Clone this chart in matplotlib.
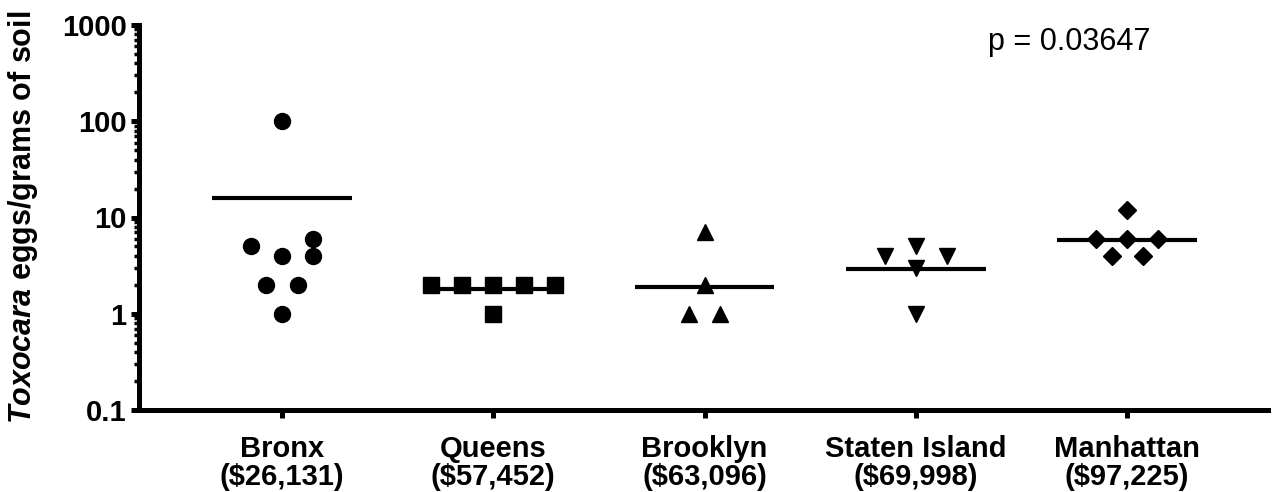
import numpy as np
import matplotlib
matplotlib.use('Agg')
import matplotlib.pyplot as plt
from matplotlib.ticker import LogLocator, FixedLocator, NullFormatter

# Datos
boroughs = ['Bronx', 'Queens', 'Brooklyn', 'Staten Island', 'Manhattan']
incomes = ['($26,131)', '($57,452)', '($63,096)', '($69,998)', '($97,225)']

bronx = [100, 5, 6, 4, 4, 2, 2, 1]
queens = [2, 2, 2, 2, 2, 1]
brooklyn = [7, 2, 1, 1]
staten = [4, 5, 4, 3, 1]
manhattan = [12, 6, 6, 6, 4, 4]

center_lines = [16, 1.8, 1.9, 2.95, 5.8]
p_text = 'p = 0.03647'

# desplazamiento horizontal de cada punto (en pasos de columna)
offsets = [
    [0, -1, 1, 0, 1, -0.5, 0.5, 0],
    [-2, -1, 0, 1, 2, 0],
    [0, 0, -0.5, 0.5],
    [-1, 0, 1, 0, 0],
    [0, -1, 0, 1, -0.5, 0.5],
]
markers = ['o', 's', '^', 'v', 'D']
msizes = [11.5, 11, 12, 12, 9.5]
step = 0.147

plt.rcParams['font.family'] = ['Liberation Sans', 'DejaVu Sans']
plt.rcParams['mathtext.fontset'] = 'custom'
plt.rcParams['mathtext.it'] = 'Liberation Sans:italic:bold'
plt.rcParams['mathtext.rm'] = 'Liberation Sans:bold'

fig = plt.figure(figsize=(12.73, 4.92), dpi=100)
ax = fig.add_axes([139/1273, 82/492, (1268-139)/1273, (410-25)/492])

groups = [bronx, queens, brooklyn, staten, manhattan]
for i, vals in enumerate(groups):
    xs = i + np.array(offsets[i]) * step
    ax.plot(xs, vals, linestyle='none', marker=markers[i], color='black',
            markersize=msizes[i], zorder=3)
    ax.plot([i - 0.33, i + 0.33], [center_lines[i]] * 2, color='black',
            lw=3, solid_capstyle='butt', zorder=2)

ax.set_yscale('log')
ax.set_ylim(0.1, 1000)
ax.set_xlim(-0.677, 4.667)
ax.yaxis.set_major_locator(FixedLocator([0.1, 1, 10, 100, 1000]))
ax.yaxis.set_minor_locator(LogLocator(base=10, subs=np.arange(2, 10)))
ax.yaxis.set_minor_formatter(NullFormatter())
ax.set_yticklabels(['0.1', '1', '10', '100', '1000'])

ax.set_xticks(range(len(boroughs)))
ax.set_xticklabels([b + '\n' + m for b, m in zip(boroughs, incomes)],
                   fontweight='bold', fontsize=21, linespacing=1.0)
for lab in ax.get_yticklabels():
    lab.set_fontweight('bold')
    lab.set_fontsize(21)

for s in ['top', 'right']:
    ax.spines[s].set_visible(False)
for s in ['left', 'bottom']:
    ax.spines[s].set_linewidth(3.6)

ax.tick_params(axis='y', which='major', length=6, width=3.6, pad=3)
ax.tick_params(axis='y', which='minor', length=3.5, width=2.5)
ax.tick_params(axis='x', which='major', length=6, width=3.6, pad=12)

ax.set_ylabel(r'$\it{Toxocara}$ eggs/grams of soil', fontsize=22,
              fontweight='bold')
ax.yaxis.set_label_coords(-0.0877, 0.5)

fig.text(988/1273, 1 - 42/492, p_text, fontsize=22, ha='left', va='center')

fig.savefig('out.png', dpi=100)
